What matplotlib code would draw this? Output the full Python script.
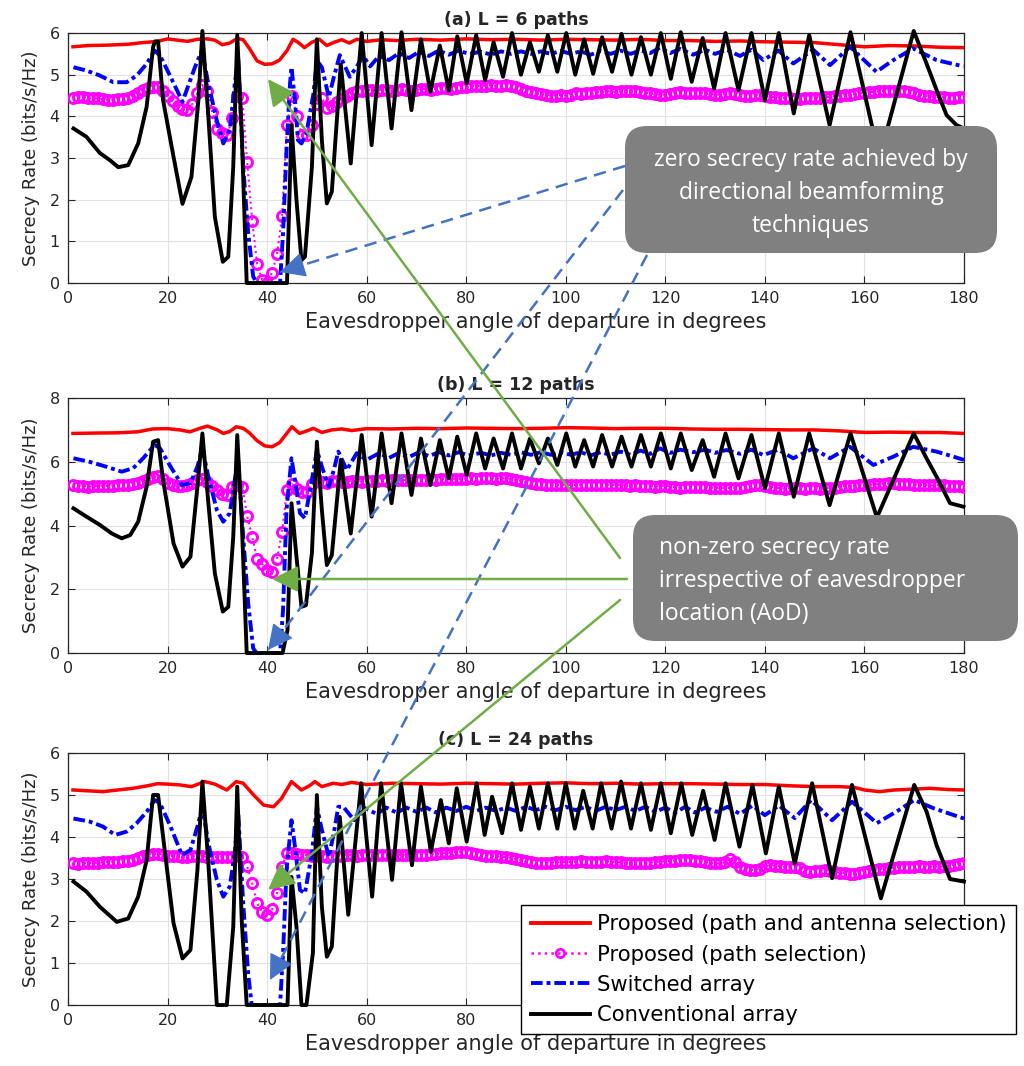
import numpy as np
import matplotlib
matplotlib.use("Agg")
import matplotlib.pyplot as plt
from matplotlib.patches import FancyBboxPatch
from matplotlib.lines import Line2D

plt.rcParams['font.family'] = ['DejaVu Sans']

# Eavesdropper angles (degrees) used by the path-selection curves
angles = np.arange(1, 181)

# ---------------- (a) L = 6 paths ----------------
red_a = [(1, 5.67), (4, 5.70), (8, 5.71), (12, 5.73), (15, 5.77), (18, 5.80), (20, 5.86),
         (22, 5.83), (24, 5.80), (26, 5.85), (28, 5.86), (29.5, 5.83), (31, 5.72), (32.5, 5.76),
         (34, 5.87), (35.2, 5.84), (36.5, 5.62), (38, 5.33), (39.5, 5.25), (41, 5.26), (42.5, 5.35),
         (44, 5.58), (45.2, 5.85), (46.2, 5.78), (47.5, 5.65), (49, 5.78), (50.5, 5.85), (52, 5.70),
         (53.5, 5.78), (55, 5.84), (56.5, 5.76), (58, 5.85), (60, 5.80), (63, 5.84), (66, 5.82),
         (70, 5.85), (75, 5.83), (80, 5.86), (85, 5.84), (90, 5.85), (95, 5.83), (100, 5.85),
         (105, 5.84), (110, 5.83), (115, 5.85), (120, 5.82), (125, 5.82), (130, 5.80), (135, 5.81),
         (140, 5.79), (145, 5.78), (150, 5.77), (155, 5.72), (160, 5.67), (165, 5.70), (170, 5.69),
         (175, 5.66), (180, 5.65)]

mag_a = [4.45, 4.47, 4.46, 4.44, 4.43, 4.43, 4.41, 4.40, 4.40, 4.41,
         4.42, 4.45, 4.50, 4.56, 4.63, 4.68, 4.70, 4.70, 4.62, 4.50,
         4.38, 4.25, 4.17, 4.15, 4.30, 4.55, 4.75, 4.60, 4.10, 3.70,
         3.60, 3.55, 3.95, 4.50, 4.45, 2.90, 1.50, 0.45, 0.08, 0.00,
         0.25, 0.70, 1.60, 3.80, 4.50, 4.00, 3.55, 3.55, 3.80, 4.30,
         4.45, 4.20, 4.25, 4.35, 4.42, 4.48, 4.55, 4.60, 4.62, 4.63,
         4.63, 4.62, 4.64, 4.63, 4.62, 4.64, 4.65, 4.63, 4.62, 4.64,
         4.65, 4.66, 4.64, 4.66, 4.67, 4.68, 4.66, 4.68, 4.70, 4.70,
         4.72, 4.73, 4.72, 4.74, 4.75, 4.73, 4.72, 4.75, 4.74, 4.70,
         4.66, 4.62, 4.58, 4.55, 4.53, 4.52, 4.50, 4.50, 4.52, 4.50,
         4.52, 4.55, 4.53, 4.55, 4.57, 4.58, 4.58, 4.60, 4.60, 4.58,
         4.60, 4.60, 4.62, 4.60, 4.58, 4.57, 4.55, 4.53, 4.52, 4.52,
         4.54, 4.56, 4.58, 4.57, 4.55, 4.55, 4.56, 4.55, 4.53, 4.52,
         4.52, 4.53, 4.55, 4.54, 4.52, 4.50, 4.50, 4.52, 4.51, 4.48,
         4.47, 4.46, 4.45, 4.44, 4.43, 4.42, 4.42, 4.43, 4.44, 4.45,
         4.45, 4.46, 4.47, 4.48, 4.50, 4.51, 4.52, 4.53, 4.55, 4.57,
         4.58, 4.59, 4.60, 4.61, 4.62, 4.62, 4.61, 4.60, 4.58, 4.55,
         4.52, 4.50, 4.48, 4.47, 4.46, 4.46, 4.45, 4.45, 4.46, 4.47]

blue_a = [(1.1, 5.18), (3.7, 5.10), (6.4, 4.98), (9.1, 4.82), (11.8, 4.82), (13.8, 4.98), (15.8, 5.26),
          (17.4, 5.58), (18.5, 5.46), (20.6, 4.95), (23.0, 4.35), (25.5, 5.18), (26.9, 5.58),
          (28.2, 4.78), (29.9, 3.90), (31.2, 3.35), (32.5, 3.67), (33.5, 4.78), (34.2, 5.40),
          (35.2, 2.79), (36.2, 1.20), (37.2, 0.16), (37.9, 0.0), (42.6, 0.0), (43.2, 1.20),
          (43.9, 3.19), (44.6, 4.78), (44.9, 5.18), (45.6, 4.38), (46.2, 3.43), (46.9, 3.35),
          (47.9, 3.59), (49.3, 4.54), (50.0, 5.34), (51.0, 5.18), (52.4, 4.46), (53.4, 4.94),
          (54.6, 5.47), (56.6, 4.95), (58.0, 5.19), (59.3, 5.45), (60.7, 5.20), (62.5, 5.45),
          (64.5, 5.35), (66.5, 5.52), (68.5, 5.40), (70.5, 5.55), (72.5, 5.45), (74.5, 5.58),
          (76.5, 5.48), (78.5, 5.58), (80.5, 5.50), (83, 5.55), (85, 5.48), (87, 5.56), (89, 5.50),
          (91, 5.56), (93, 5.50), (95, 5.56), (97, 5.50), (99, 5.57), (101, 5.50), (103, 5.56),
          (105, 5.48), (107, 5.57), (109, 5.50), (111, 5.58), (113, 5.50), (115, 5.58), (117, 5.52),
          (118.9, 5.65), (121, 5.52), (123, 5.62), (125.6, 5.48), (128, 5.60), (130, 5.50),
          (132.3, 5.60), (135, 5.45), (137.3, 5.60), (139.7, 5.35), (142.7, 5.58), (145.7, 5.27),
          (149.7, 5.60), (153.1, 5.23), (157.1, 5.67), (162.4, 5.07), (165.8, 5.35), (169.8, 5.63),
          (174.5, 5.35), (179.9, 5.20)]

conv_a = [(1.1, 3.71), (3.7, 3.51), (6.4, 3.12), (8.4, 2.95), (10.1, 2.78), (12.1, 2.83), (14.1, 3.35),
          (15.8, 4.23), (17.1, 5.67), (17.5, 5.80), (18.1, 5.80), (19.1, 4.39), (21.2, 3.03),
          (23.0, 1.90), (24.8, 2.55), (26.2, 4.39), (27.0, 6.05), (28.2, 3.99), (29.5, 1.59),
          (31.1, 0.51), (32.2, 0.63), (33.2, 2.79), (34.0, 5.95), (34.9, 3.59), (35.9, 0.0),
          (44.0, 0.0), (44.9, 3.79), (45.9, 1.99), (46.9, 0.55), (47.6, 0.63), (49.0, 2.79),
          (50.0, 5.85), (51.0, 3.43), (52.0, 1.91), (53.0, 2.19), (54.8, 5.25), (56.8, 2.87),
          (59.0, 6.00), (61.0, 3.31), (63.0, 6.00), (65.0, 3.71), (67.0, 6.02), (69.0, 4.15),
          (70.9, 5.85), (72.8, 4.59), (74.7, 5.70), (76.5, 4.62), (78.2, 5.92), (80.1, 4.79),
          (82.0, 5.95), (83.8, 4.87), (85.5, 5.78), (87.4, 4.95), (89.2, 6.00), (91.0, 5.00),
          (92.8, 5.78), (94.6, 5.07), (96.4, 5.95), (98.3, 5.07), (100.1, 6.00), (101.9, 5.00),
          (103.7, 5.85), (105.5, 5.02), (107.3, 5.90), (109.3, 5.07), (111.2, 5.98), (113.2, 5.00),
          (115.1, 5.90), (117.1, 5.00), (119.1, 6.00), (121.1, 4.90), (123.1, 6.02), (125.3, 4.83),
          (127.5, 5.88), (129.8, 4.67), (132.1, 6.00), (134.7, 4.63), (137.3, 6.00), (140.0, 4.39),
          (142.8, 6.00), (145.8, 4.07), (148.9, 5.95), (153.0, 3.79), (157.2, 6.02), (163.0, 3.00),
          (169.9, 6.05), (172.5, 5.26), (174.5, 4.63), (176.5, 4.03), (178.5, 3.79), (179.8, 3.72)]

# ---------------- (b) L = 12 paths ----------------
red_b = [(1, 6.89), (5, 6.90), (10, 6.91), (14, 6.94), (17, 7.03), (20, 7.04), (22.5, 7.00),
         (24.5, 6.94), (26.5, 7.05), (28, 7.12), (30, 7.00), (31.2, 6.89), (32.5, 6.95), (33.8, 7.10),
         (35.2, 7.05), (36.5, 6.90), (38, 6.66), (39.5, 6.50), (41, 6.47), (42.5, 6.60), (44, 6.90),
         (45, 7.10), (46.5, 6.89), (48, 6.97), (49.3, 7.05), (51, 6.92), (53, 7.00), (55, 7.03),
         (57, 6.98), (60, 7.04), (65, 7.03), (70, 7.05), (75, 7.04), (80, 7.06), (85, 7.05),
         (90, 7.04), (95, 7.05), (100, 7.07), (105, 7.06), (110, 7.04), (115, 7.05), (120, 7.05),
         (125, 7.03), (130, 7.02), (135, 7.02), (140, 7.01), (145, 7.00), (150, 7.00), (155, 6.97),
         (160, 6.92), (165, 6.93), (170, 6.92), (175, 6.92), (180, 6.89)]

mag_b = [5.27, 5.25, 5.24, 5.22, 5.23, 5.24, 5.25, 5.24, 5.25, 5.26,
         5.27, 5.28, 5.30, 5.34, 5.40, 5.45, 5.52, 5.54, 5.45, 5.35,
         5.27, 5.24, 5.24, 5.27, 5.32, 5.42, 5.45, 5.38, 5.25, 5.10,
         5.00, 4.95, 5.20, 5.27, 5.22, 4.30, 3.65, 2.95, 2.80, 2.60,
         2.55, 2.95, 3.80, 5.10, 5.30, 5.15, 5.05, 5.05, 5.30, 5.42,
         5.38, 5.32, 5.40, 5.40, 5.38, 5.38, 5.40, 5.40, 5.38, 5.40,
         5.40, 5.41, 5.42, 5.40, 5.42, 5.43, 5.42, 5.43, 5.44, 5.43,
         5.44, 5.43, 5.45, 5.44, 5.46, 5.45, 5.46, 5.47, 5.46, 5.47,
         5.48, 5.47, 5.48, 5.49, 5.48, 5.47, 5.48, 5.48, 5.46, 5.43,
         5.40, 5.36, 5.33, 5.30, 5.30, 5.28, 5.28, 5.27, 5.27, 5.28,
         5.27, 5.28, 5.27, 5.26, 5.28, 5.27, 5.26, 5.27, 5.28, 5.27,
         5.27, 5.26, 5.25, 5.26, 5.25, 5.24, 5.23, 5.22, 5.24, 5.25,
         5.22, 5.20, 5.19, 5.21, 5.22, 5.22, 5.21, 5.20, 5.19, 5.18,
         5.18, 5.17, 5.18, 5.17, 5.19, 5.22, 5.25, 5.27, 5.27, 5.25,
         5.22, 5.19, 5.17, 5.16, 5.17, 5.18, 5.17, 5.16, 5.17, 5.17,
         5.16, 5.17, 5.18, 5.19, 5.21, 5.23, 5.24, 5.25, 5.27, 5.27,
         5.28, 5.29, 5.30, 5.31, 5.32, 5.32, 5.31, 5.30, 5.29, 5.28,
         5.27, 5.27, 5.26, 5.26, 5.27, 5.26, 5.25, 5.24, 5.23, 5.22]

blue_b = [(1.1, 6.11), (4.3, 6.00), (7.6, 5.85), (10.8, 5.69), (13.1, 5.80), (15.1, 6.11), (17.4, 6.53),
          (18.5, 6.42), (20.6, 5.85), (22.9, 5.27), (24.6, 5.33), (26.0, 5.85), (27.0, 6.42),
          (28.2, 5.53), (29.9, 4.49), (31.2, 4.12), (32.5, 4.39), (33.5, 5.43), (34.2, 6.05),
          (35.2, 3.65), (36.2, 1.56), (37.2, 0.15), (37.9, 0.0), (42.6, 0.0), (43.2, 1.35),
          (43.9, 4.49), (44.9, 6.11), (45.6, 5.43), (46.6, 4.39), (47.6, 4.23), (49.0, 5.43),
          (50.0, 6.37), (51.0, 5.85), (52.4, 5.22), (53.4, 5.74), (54.3, 6.32), (56.0, 5.74),
          (58.0, 6.27), (60.0, 6.06), (62.5, 6.27), (64.5, 6.12), (66.5, 6.28), (68.5, 6.15),
          (70.5, 6.30), (72.5, 6.18), (74.5, 6.30), (76.5, 6.20), (78.5, 6.30), (80.5, 6.20),
          (83, 6.28), (85, 6.20), (87, 6.28), (89, 6.22), (91, 6.30), (93, 6.22), (95, 6.30),
          (97, 6.22), (99, 6.30), (101, 6.22), (103, 6.30), (105, 6.20), (107, 6.30), (109, 6.22),
          (111, 6.32), (113, 6.22), (115, 6.35), (117, 6.25), (118.9, 6.42), (121, 6.28), (123, 6.38),
          (125.6, 6.30), (128, 6.38), (130, 6.28), (132.3, 6.37), (135, 6.25), (137.3, 6.38),
          (139.7, 6.21), (142.7, 6.38), (145.7, 6.11), (149.7, 6.42), (153.1, 6.11), (157.1, 6.47),
          (161.8, 5.90), (165.8, 6.16), (169.8, 6.47), (174.5, 6.32), (180, 6.06)]

conv_b = [(1.1, 4.54), (3.7, 4.28), (6.4, 4.02), (8.8, 3.75), (10.8, 3.60), (12.5, 3.70), (14.1, 4.12),
          (15.8, 5.22), (17.1, 6.63), (18.1, 6.68), (19.1, 5.43), (21.2, 3.44), (23.0, 2.71),
          (24.6, 3.02), (26.0, 5.22), (27.0, 6.89), (28.2, 4.70), (29.5, 2.50), (31.1, 1.30),
          (32.2, 1.45), (33.2, 3.65), (34.0, 6.84), (34.9, 4.17), (35.9, 0.0), (43.1, 0.0),
          (44.1, 0.72), (44.9, 4.70), (45.9, 3.02), (46.9, 1.45), (47.8, 1.50), (49.0, 3.14),
          (50.0, 6.63), (51.0, 4.49), (52.0, 2.76), (53.0, 3.07), (54.8, 6.06), (56.8, 3.75),
          (59.0, 6.84), (61.0, 4.28), (63.0, 6.89), (65.0, 4.70), (67.0, 6.89), (69.0, 4.96),
          (70.9, 6.73), (72.8, 5.27), (74.7, 6.68), (76.5, 5.48), (78.2, 6.79), (80.1, 5.59),
          (82.0, 6.89), (83.8, 5.79), (85.5, 6.73), (87.4, 5.79), (89.2, 6.89), (91.0, 5.79),
          (92.8, 6.73), (94.6, 5.95), (96.4, 6.73), (98.3, 5.90), (100.1, 6.89), (101.9, 5.85),
          (103.7, 6.68), (105.5, 5.85), (107.3, 6.84), (109.3, 5.85), (111.2, 6.79), (113.2, 5.85),
          (115.1, 6.84), (117.1, 5.85), (119.1, 6.89), (121.1, 5.79), (123.1, 6.89), (125.3, 5.74),
          (127.5, 6.68), (129.8, 5.53), (132.1, 6.89), (134.7, 5.48), (137.3, 6.84), (140.0, 5.17),
          (142.8, 6.89), (145.8, 4.90), (148.9, 6.89), (153.0, 4.64), (157.2, 6.89), (162.5, 4.25),
          (169.9, 6.89), (172.5, 6.10), (174.5, 5.53), (177.2, 4.70), (179.9, 4.59)]

# ---------------- (c) L = 24 paths ----------------
red_c = [(1, 5.12), (4, 5.10), (7, 5.08), (10, 5.12), (13, 5.16), (16, 5.22), (18, 5.27), (20, 5.26),
         (22.5, 5.24), (24.8, 5.20), (27.5, 5.32), (29.5, 5.26), (31.9, 5.12), (33.8, 5.32),
         (35.2, 5.28), (37.3, 5.00), (39.3, 4.76), (41.3, 4.72), (42.9, 4.92), (44.9, 5.32),
         (46.9, 5.12), (48.5, 5.22), (49.6, 5.32), (51, 5.20), (53.3, 5.28), (55, 5.25), (57, 5.30),
         (60, 5.25), (65, 5.28), (70, 5.27), (75, 5.26), (80, 5.28), (85, 5.27), (90, 5.26),
         (95, 5.28), (100, 5.29), (105, 5.27), (110, 5.28), (115, 5.26), (120, 5.27), (125, 5.27),
         (130, 5.26), (135, 5.25), (140, 5.25), (145, 5.22), (150, 5.20), (155, 5.20), (158, 5.18),
         (160, 5.12), (163, 5.08), (166, 5.12), (170, 5.14), (173, 5.16), (177, 5.13), (180, 5.12)]

mag_c = [3.37, 3.36, 3.38, 3.37, 3.39, 3.38, 3.40, 3.40, 3.41, 3.41,
         3.43, 3.44, 3.46, 3.50, 3.55, 3.58, 3.60, 3.60, 3.58, 3.56,
         3.55, 3.54, 3.53, 3.53, 3.54, 3.55, 3.54, 3.53, 3.53, 3.52,
         3.52, 3.53, 3.53, 3.54, 3.53, 3.30, 2.90, 2.42, 2.22, 2.14,
         2.28, 2.66, 3.29, 3.62, 3.62, 3.60, 3.58, 3.57, 3.55, 3.55,
         3.54, 3.53, 3.55, 3.55, 3.56, 3.57, 3.57, 3.56, 3.57, 3.57,
         3.57, 3.58, 3.57, 3.58, 3.57, 3.58, 3.57, 3.58, 3.58, 3.57,
         3.58, 3.58, 3.59, 3.60, 3.61, 3.62, 3.63, 3.64, 3.65, 3.65,
         3.63, 3.60, 3.58, 3.56, 3.55, 3.54, 3.53, 3.52, 3.50, 3.48,
         3.45, 3.42, 3.40, 3.38, 3.37, 3.38, 3.39, 3.40, 3.40, 3.41,
         3.40, 3.41, 3.42, 3.41, 3.41, 3.40, 3.41, 3.42, 3.41, 3.40,
         3.40, 3.39, 3.38, 3.38, 3.37, 3.38, 3.39, 3.40, 3.41, 3.42,
         3.43, 3.44, 3.45, 3.45, 3.45, 3.44, 3.43, 3.40, 3.38, 3.37,
         3.37, 3.40, 3.48, 3.40, 3.28, 3.24, 3.22, 3.21, 3.25, 3.30,
         3.33, 3.32, 3.30, 3.29, 3.28, 3.29, 3.26, 3.20, 3.17, 3.18,
         3.20, 3.21, 3.20, 3.17, 3.15, 3.14, 3.13, 3.12, 3.14, 3.17,
         3.20, 3.22, 3.24, 3.25, 3.26, 3.27, 3.28, 3.29, 3.29, 3.29,
         3.30, 3.29, 3.29, 3.30, 3.29, 3.30, 3.32, 3.34, 3.36, 3.37]

blue_c = [(1.1, 4.44), (4.3, 4.37), (7.0, 4.25), (9.5, 4.05), (11.8, 4.13), (13.8, 4.33), (15.8, 4.60),
          (17.4, 4.88), (18.5, 4.80), (20.6, 4.25), (22.9, 3.57), (24.6, 3.69), (26.0, 4.25),
          (27.0, 4.72), (28.2, 3.85), (29.9, 2.98), (31.2, 2.58), (32.5, 2.82), (33.5, 3.61),
          (34.2, 4.56), (35.2, 2.42), (36.2, 0.75), (36.9, 0.0), (42.6, 0.0), (43.2, 1.23),
          (43.9, 3.21), (44.9, 4.40), (45.6, 3.77), (46.6, 2.74), (47.6, 2.66), (49.0, 3.61),
          (50.0, 4.72), (51.0, 4.17), (52.4, 3.53), (53.4, 4.09), (54.3, 4.72), (55.3, 4.72),
          (57.5, 4.40), (59.8, 4.68), (62, 4.55), (64, 4.70), (66, 4.58), (68, 4.70), (70, 4.60),
          (72, 4.70), (74, 4.58), (76, 4.70), (78, 4.62), (80, 4.72), (82, 4.62), (84, 4.70),
          (86, 4.62), (88, 4.70), (90, 4.62), (92, 4.72), (94, 4.64), (96, 4.72), (98, 4.64),
          (100, 4.72), (102, 4.64), (104, 4.72), (106, 4.62), (108, 4.72), (110, 4.64), (112, 4.72),
          (114, 4.62), (116, 4.72), (118, 4.60), (120, 4.70), (122, 4.58), (124, 4.72), (126, 4.58),
          (128, 4.70), (130.3, 4.60), (132.5, 4.72), (135, 4.55), (137.5, 4.75), (140, 4.52),
          (142.8, 4.75), (146, 4.45), (149.3, 4.88), (153.5, 4.40), (157.5, 4.84), (162.5, 4.33),
          (166.9, 4.64), (170, 4.88), (174, 4.68), (180, 4.44)]

conv_c = [(1.1, 2.94), (3.7, 2.70), (6.4, 2.34), (9.8, 1.98), (12.1, 2.06), (14.1, 2.58), (15.8, 3.45),
          (17.1, 5.00), (18.1, 5.00), (19.1, 4.01), (21.2, 1.95), (23.0, 1.11), (24.6, 1.31),
          (26.0, 3.21), (27.0, 5.32), (28.2, 3.37), (29.9, 0.0), (31.9, 0.0), (33.2, 1.86),
          (34.0, 5.20), (34.9, 2.02), (35.9, 0.0), (44.1, 0.0), (44.9, 3.05), (45.9, 1.86),
          (46.9, 0.0), (47.9, 0.0), (49.2, 1.24), (50.0, 5.00), (51.0, 2.34), (52.0, 1.15),
          (53.0, 1.39), (54.6, 4.48), (56.3, 2.15), (58.9, 5.28), (61.1, 2.58), (62.9, 5.28),
          (65.1, 2.98), (66.9, 5.28), (69.1, 3.33), (70.9, 5.20), (72.9, 3.65), (74.9, 4.88),
          (76.5, 3.85), (78.1, 5.16), (80.1, 3.89), (82.1, 5.28), (83.7, 4.05), (85.2, 4.96),
          (87.2, 4.09), (89.2, 5.28), (91.0, 4.17), (92.8, 5.20), (94.6, 4.20), (96.4, 5.28),
          (98.3, 4.20), (100.0, 5.28), (101.8, 4.20), (103.5, 5.10), (105.4, 4.20), (107.1, 5.28),
          (109.2, 4.20), (111.1, 5.32), (113.1, 4.20), (115.1, 5.28), (117.1, 4.17), (119.1, 5.28),
          (121.1, 4.09), (123.2, 5.28), (125.4, 4.05), (127.6, 5.10), (129.9, 3.93), (132.1, 5.28),
          (134.9, 3.77), (137.5, 5.24), (140.2, 3.61), (142.8, 5.20), (146.0, 3.37), (149.5, 5.28),
          (153.5, 3.02), (157.5, 5.24), (163.3, 2.54), (170.0, 5.24), (172.5, 4.60), (174.5, 3.80),
          (177.2, 3.00), (180.0, 2.94)]

titles = ['(a) L = 6 paths', '(b) L = 12 paths', '(c) L = 24 paths']
y_max = [6, 8, 6]
y_step = [1, 2, 1]
x_ticks = list(range(0, 181, 20))
# in (c) the legend sits over the right-hand tick labels
x_labels_c = ['0', '20', '40', '60', '80', '', '', '', '', '']
legend_labels = ['Proposed (path and antenna selection)', 'Proposed (path selection)',
                 'Switched array', 'Conventional array']

RED, MAG, BLUE = '#FF0000', '#FF00FF', '#0000FF'
TXT = '#262626'

fig = plt.figure(figsize=(10.24, 10.66), dpi=100)
rects = [[0.0664, 0.7345, 0.875, 0.2345],
         [0.0664, 0.3874, 0.875, 0.2392],
         [0.0664, 0.0572, 0.875, 0.2364]]

panels = [(red_a, mag_a, blue_a, conv_a), (red_b, mag_b, blue_b, conv_b),
          (red_c, mag_c, blue_c, conv_c)]

axes = []
for i, (red, mag, blue, conv) in enumerate(panels):
    ax = fig.add_axes(rects[i])
    rx, ry = np.array(red).T
    bx, by = np.array(blue).T
    kx, ky = np.array(conv).T
    ax.plot(rx, ry, color=RED, lw=2.5, zorder=3)
    ax.plot(angles, mag, color=MAG, ls=':', lw=1.5, marker='o', ms=7.2,
            mfc='none', mec=MAG, mew=2.1, zorder=4)
    ax.plot(bx, by, color=BLUE, lw=2.8, dashes=(3, 1, 1, 1), zorder=5)
    ax.plot(kx, ky, color='black', lw=2.8, zorder=6, clip_on=False)

    ax.set_xlim(0, 180)
    ax.set_ylim(0, y_max[i])
    ax.set_xticks(x_ticks)
    if i == 2:
        ax.set_xticklabels(x_labels_c)
    ax.set_yticks(np.arange(0, y_max[i] + 0.01, y_step[i]))
    ax.grid(True, color='#E2E2E2', lw=0.8)
    ax.set_axisbelow(True)
    ax.tick_params(direction='in', top=True, right=True, labelsize=11.5,
                   colors=TXT, length=5, width=0.8, pad=6)
    for s in ax.spines.values():
        s.set_color(TXT)
        s.set_linewidth(0.9)
    ax.set_title(titles[i], fontsize=12.5, fontweight='bold', color=TXT, pad=6)
    ax.set_xlabel('Eavesdropper angle of departure in degrees', fontsize=15,
                  color=TXT)
    ax.xaxis.set_label_coords(0.522, -0.115)
    ax.set_ylabel('Secrecy Rate (bits/s/Hz)', fontsize=13, color=TXT)
    ax.yaxis.set_label_coords(-0.031, 0.5)
    axes.append(ax)

handles = [Line2D([], [], color=RED, lw=2.8),
           Line2D([], [], color=MAG, ls=':', lw=1.8, marker='o', ms=6, mfc='none', mew=2),
           Line2D([], [], color=BLUE, lw=2.8, dashes=(3, 1, 1, 1)),
           Line2D([], [], color='black', lw=2.8)]
leg = axes[2].legend(handles, legend_labels, loc='upper left',
                     bbox_to_anchor=(521 / 1024, 1 - 905 / 1066),
                     bbox_transform=fig.transFigure, fontsize=15.2, frameon=True,
                     fancybox=False, edgecolor='black', framealpha=1,
                     handlelength=2.8, handletextpad=0.35, labelspacing=0.48,
                     borderpad=0.45, borderaxespad=0)
leg.get_frame().set_linewidth(1.0)
leg.set_zorder(20)

# overlay in figure pixel coordinates for the call-outs
ov = fig.add_axes([0, 0, 1, 1], zorder=10)
ov.set_xlim(0, 1024)
ov.set_ylim(1066, 0)
ov.axis('off')

GREEN, DBLUE = '#70AD47', '#4472C4'
green_arrows = [((620, 558), (268, 79)), ((627, 579), (272, 579)), ((620, 600), (268, 890))]
for tail, head in green_arrows:
    ov.annotate('', xy=head, xytext=tail,
                arrowprops=dict(arrowstyle='-|>,head_length=0.8,head_width=0.4',
                                color=GREEN, lw=1.8, shrinkA=0, shrinkB=0,
                                mutation_scale=20))

blue_arrows = [((625, 166), (280, 272)), ((623, 190), (268, 650)), ((647, 255), (270, 980))]
for tail, head in blue_arrows:
    ov.plot([tail[0], head[0]], [tail[1], head[1]], color=DBLUE, lw=1.8,
            ls=(0, (5, 3)))
    d = np.array(tail, float) - np.array(head, float)
    d = d / np.hypot(*d) * 16
    ov.annotate('', xy=head, xytext=(head[0] + d[0], head[1] + d[1]),
                arrowprops=dict(arrowstyle='-|>,head_length=0.8,head_width=0.4',
                                color=DBLUE, lw=1.0, shrinkA=0, shrinkB=0,
                                mutation_scale=20))

ov.add_patch(FancyBboxPatch((625, 126), 372, 127, boxstyle='round,pad=0,rounding_size=22',
                            fc='#808080', ec='none'))
ov.text(811, 193, 'zero secrecy rate achieved by\ndirectional beamforming\ntechniques',
        ha='center', va='center', color='white', fontsize=16.5,
        family=['Open Sans', 'DejaVu Sans'], linespacing=1.5)
ov.add_patch(FancyBboxPatch((633, 515), 385, 126, boxstyle='round,pad=0,rounding_size=22',
                            fc='#808080', ec='none'))
ov.text(659, 581, 'non-zero secrecy rate\nirrespective of eavesdropper\nlocation (AoD)',
        ha='left', va='center', color='white', fontsize=16.5,
        family=['Open Sans', 'DejaVu Sans'], linespacing=1.5)

fig.savefig('out.png', dpi=100)
